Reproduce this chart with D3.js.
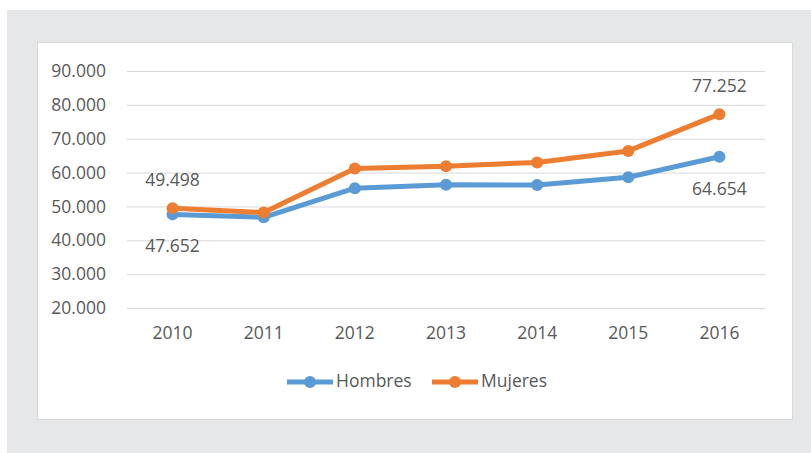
<!DOCTYPE html>
<html>
<head>
<meta charset="utf-8">
<script src="https://cdn.jsdelivr.net/npm/d3@7"></script>
<style>
  body { margin: 0; background: #fff; }
  svg { display: block; }
  text { font-family: "Open Sans", sans-serif; fill: #595959; }
</style>
</head>
<body>
<svg id="chart"></svg>
<script>
const years = ['2010', '2011', '2012', '2013', '2014', '2015', '2016'];
const hombres = [47.652, 46.8, 55.4, 56.4, 56.3, 58.6, 64.654];
const mujeres = [49.498, 48.2, 61.2, 61.9, 63.0, 66.4, 77.252];
const yTicks = [20, 30, 40, 50, 60, 70, 80, 90];

const svgWidth = 811;
const svgHeight = 453;
const plot = { left: 127, right: 765, top: 71, bottom: 308 };
const fontSize = '17.5px';

const svg = d3.select('#chart')
  .attr('width', svgWidth)
  .attr('height', svgHeight);

// backdrop + white panel
svg.append('rect')
  .attr('x', 7).attr('y', 10)
  .attr('width', svgWidth - 7).attr('height', svgHeight - 10)
  .attr('fill', '#e6e7e8');
svg.append('rect')
  .attr('x', 37.5).attr('y', 42.5)
  .attr('width', 755).attr('height', 377)
  .attr('fill', '#fff')
  .attr('stroke', '#d9d9d9');

const xScale = d3.scaleBand()
  .domain(years)
  .range([plot.left, plot.right]);

const yScale = d3.scaleLinear()
  .domain([20, 90])
  .range([plot.bottom, plot.top]);

const tickFmt = v => d3.format(',.0f')(v * 1000).replace(/,/g, '.');

// gridlines + y labels
const yAxis = svg.append('g')
  .attr('transform', `translate(${plot.left},0)`)
  .call(d3.axisLeft(yScale).tickValues(yTicks).tickFormat(tickFmt)
    .tickSize(-(plot.right - plot.left)).tickPadding(21));
yAxis.select('.domain').remove();
yAxis.selectAll('line').attr('stroke', '#d9d9d9').attr('stroke-width', 1);
yAxis.selectAll('text').style('font-size', fontSize).attr('fill', '#595959');

// x labels
const xAxis = svg.append('g')
  .attr('transform', `translate(0,${plot.bottom})`)
  .call(d3.axisBottom(xScale).tickSize(0).tickPadding(19));
xAxis.select('.domain').remove();
xAxis.selectAll('text').style('font-size', fontSize).attr('fill', '#595959');

const series = [
  { name: 'Hombres', values: hombres, color: '#5b9bd5' },
  { name: 'Mujeres', values: mujeres, color: '#ed7d31' }
];

const cx = i => xScale(years[i]) + xScale.bandwidth() / 2;

const line = d3.line()
  .x((d, i) => cx(i))
  .y(d => yScale(d));

series.forEach(s => {
  svg.append('path')
    .datum(s.values)
    .attr('fill', 'none')
    .attr('stroke', s.color)
    .attr('stroke-width', 5)
    .attr('stroke-linejoin', 'round')
    .attr('d', line);
  svg.selectAll(null)
    .data(s.values)
    .enter().append('circle')
    .attr('cx', (d, i) => cx(i))
    .attr('cy', d => yScale(d))
    .attr('r', 6)
    .attr('fill', s.color);
});

// data labels
const labels = [
  { v: mujeres[0], i: 0, dy: -27 },
  { v: hombres[0], i: 0, dy: 33 },
  { v: mujeres[6], i: 6, dy: -27 },
  { v: hombres[6], i: 6, dy: 33 }
];
svg.selectAll('.lbl')
  .data(labels)
  .enter().append('text')
  .attr('class', 'lbl')
  .attr('x', d => cx(d.i))
  .attr('y', d => yScale(d.v) + d.dy)
  .attr('text-anchor', 'middle')
  .attr('dominant-baseline', 'middle')
  .style('font-size', fontSize)
  .text(d => d.v.toFixed(3));

// legend
const legend = [
  { name: 'Hombres', color: '#5b9bd5', x: 287 },
  { name: 'Mujeres', color: '#ed7d31', x: 432 }
];
const lg = svg.selectAll('.legend')
  .data(legend)
  .enter().append('g')
  .attr('class', 'legend')
  .attr('transform', d => `translate(${d.x},382)`);
lg.append('line')
  .attr('x1', 0).attr('x2', 46)
  .attr('stroke', d => d.color)
  .attr('stroke-width', 5);
lg.append('circle')
  .attr('cx', 23).attr('r', 6)
  .attr('fill', d => d.color);
lg.append('text')
  .attr('x', 49)
  .attr('dominant-baseline', 'middle')
  .style('font-size', fontSize)
  .text(d => d.name);
</script>
</body>
</html>
